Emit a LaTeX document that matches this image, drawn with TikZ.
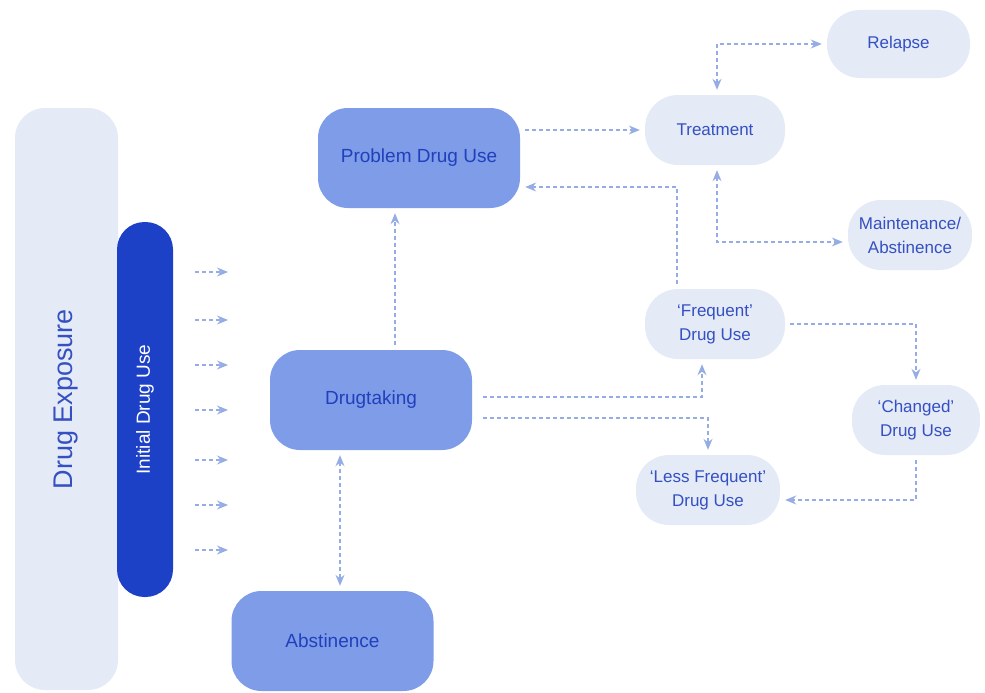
\documentclass[tikz,border=0pt]{standalone}
\usepackage{fontspec}
\setmainfont{Liberation Sans}
\usetikzlibrary{arrows.meta}
\definecolor{paleblue}{HTML}{E4EAF6}
\definecolor{midblue}{HTML}{7E9CE8}
\definecolor{darkbar}{HTML}{1C40C6}
\definecolor{linkblue}{HTML}{95ACE4}
\definecolor{txtblue}{HTML}{3450C2}
\definecolor{txtdark}{HTML}{2140BC}
\tikzset{
  lightbox/.style={draw=none, fill=paleblue, rounded corners=33pt, minimum width=140pt, minimum height=70pt, inner sep=0pt, align=center, text=txtblue, font=\fontsize{17}{24}\selectfont},
  midbox/.style={draw=none, fill=midblue, rounded corners=30pt, minimum width=202pt, minimum height=100pt, inner sep=0pt, align=center, text=txtdark, font=\fontsize{19}{24}\selectfont},
  conn/.style={draw=linkblue, line width=1.3pt, dash pattern=on 4pt off 3pt, -{Stealth[length=11pt,width=9pt]}, shorten >=5pt, shorten <=5pt},
  biconn/.style={conn, {Stealth[length=11pt,width=9pt]}-{Stealth[length=11pt,width=9pt]}}
}
\begin{document}
\begin{tikzpicture}[x=1pt, y=-1pt]
\useasboundingbox (0,0) rectangle (985,693);
% left columns
\node[fill=paleblue, rounded corners=30pt, minimum width=103pt, minimum height=582pt, inner sep=0pt] (DE) at (66.5,399) {};
\node[rotate=90, text=txtblue, font=\fontsize{27}{30}\selectfont] (DEt) at (DE) {Drug Exposure};
\node[fill=darkbar, rounded corners=27.5pt, minimum width=56pt, minimum height=375pt, inner sep=0pt] (IDU) at (145,409.5) {};
\node[rotate=90, text=white, font=\fontsize{19}{22}\selectfont] (IDUt) at (IDU) {Initial Drug Use};
% main boxes
\node[midbox] (PDU) at (419,158) {Problem Drug Use};
\node[midbox] (DT) at (371,400) {Drugtaking};
\node[midbox] (AB) at (332.5,641) {Abstinence};
% light boxes
\node[lightbox] (TR) at (715,130) {Treatment};
\node[lightbox, minimum width=143pt, minimum height=68pt] (RL) at (898.5,44) {Relapse};
\node[lightbox, minimum width=124pt] (MA) at (910,235) {Maintenance/\\Abstinence};
\node[lightbox] (FR) at (715,324) {`Frequent'\\Drug Use};
\node[lightbox, minimum width=128pt] (CH) at (916,420) {`Changed'\\Drug Use};
\node[lightbox, minimum width=144pt] (LF) at (708,490) {`Less Frequent'\\Drug Use};
% small arrows from initial drug use
\foreach \i/\yy in {1/272,2/320,3/365,4/410,5/460,6/505,7/550}{
  \coordinate (a\i) at (228,\yy);
  \draw[conn, shorten <=22pt, shorten >=0pt] (IDU.east |- a\i) -- (a\i);
}
% connectors
\draw[conn] (PDU.east |- TR) -- (TR.west);
\draw[conn] ([xshift=-38pt]FR.north) |- ([yshift=-29pt]PDU.east);
\draw[conn] (DT.north -| 395,0) -- (PDU.south -| 395,0);
\draw[biconn] (DT.south -| 340,0) -- (AB.north -| 340,0);
\draw[conn, shorten <=11pt] ([yshift=3pt]DT.east) -| ([xshift=-13pt]FR.south);
\draw[conn, shorten <=11pt] ([yshift=-18pt]DT.east) -| (LF.north);
\draw[conn] (FR.east) -| (CH.north);
\draw[conn] (CH.south) |- ([yshift=-10pt]LF.east);
\draw[biconn] (RL.west) -| ([xshift=2pt]TR.north);
\draw[biconn] ([xshift=2pt]TR.south) |- ([yshift=-7pt]MA.west);
\end{tikzpicture}
\end{document}
